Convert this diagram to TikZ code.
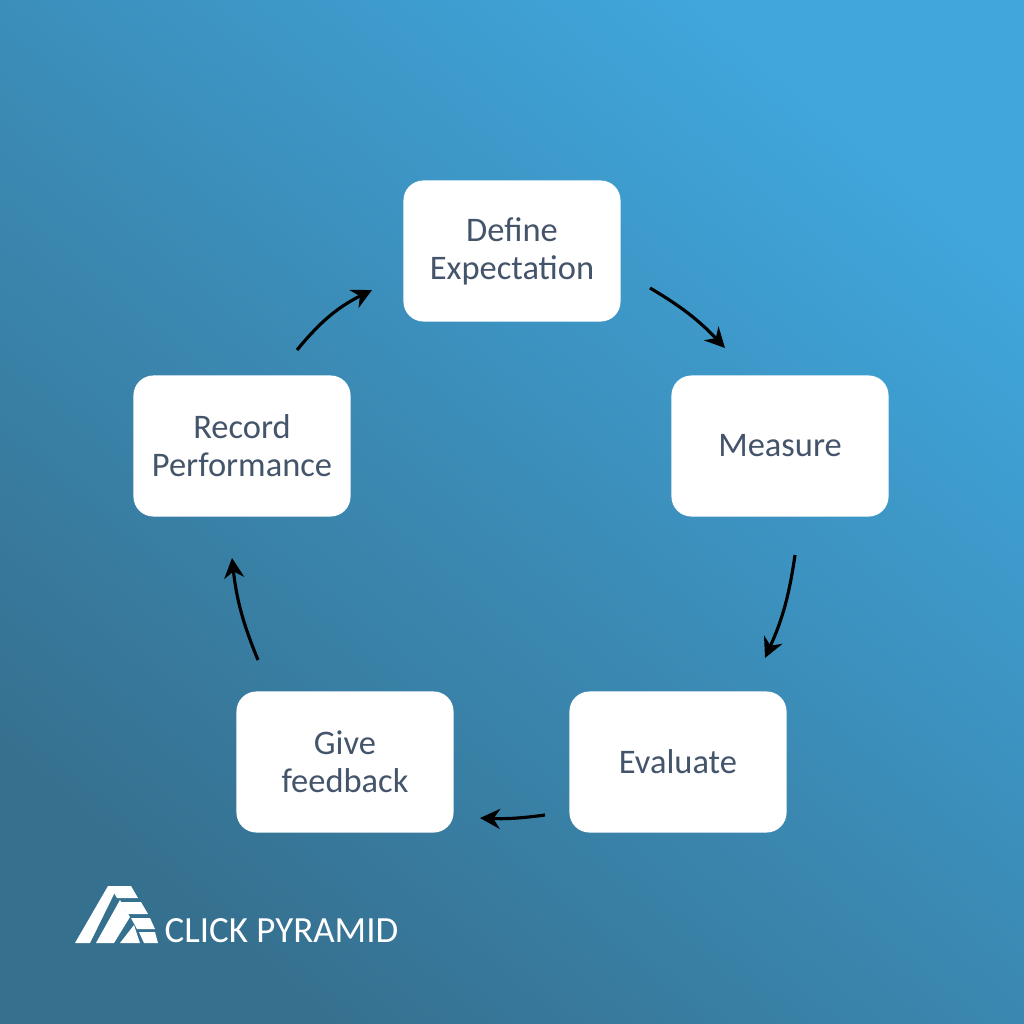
\documentclass[tikz,border=0pt]{standalone}
\usepackage{fontspec}
\setmainfont{Carlito}
\usetikzlibrary{arrows.meta}
\definecolor{bglight}{HTML}{40A6DC}
\definecolor{bgdark}{HTML}{36708F}
\definecolor{boxtext}{HTML}{44546A}
\tikzset{
  stage/.style={draw=none, fill=white, rounded corners=0.2cm, minimum width=2.17cm,
    minimum height=1.41cm, align=center, text=boxtext, font=\fontsize{9.8}{10.8}\selectfont},
  flow/.style={-{Stealth[length=0.2cm,width=0.2cm]}, line width=0.9pt, black},
}
\begin{document}
\begin{tikzpicture}[x=0.01cm, y=-0.01cm]
\useasboundingbox (0,0) rectangle (1024,1024);
\shade[top color=bglight, bottom color=bgdark, middle color=bglight!50!bgdark, shading angle=-40] (0,0) rectangle (1024,1024);

\node[stage] (define) at (512,251) {Define\\Expectation};
\node[stage] (measure) at (780,446) {Measure};
\node[stage] (evaluate) at (678,762) {Evaluate};
\node[stage] (feedback) at (345,762) {Give\\feedback};
\node[stage] (record) at (242,446) {Record\\Performance};

\coordinate (a1) at (297,350); \coordinate (a2) at (372,290);
\coordinate (b1) at (650,288); \coordinate (b2) at (725,348);
\coordinate (c1) at (795,555); \coordinate (c2) at (765,658);
\coordinate (d1) at (545,815); \coordinate (d2) at (480,818);
\coordinate (e1) at (258,660); \coordinate (e2) at (232,558);
\draw[flow] (a1) to[bend left=12] (a2);
\draw[flow] (b1) to[bend left=8] (b2);
\draw[flow] (c1) to[bend left=8] (c2);
\draw[flow] (d1) to[bend left=5] (d2);
\draw[flow] (e1) to[bend left=8] (e2);

% logo
\fill[white] (75,943) -- (108,886) -- (118,886) -- (90,943) -- cycle;
\fill[white] (96,943) -- (120,900) -- (130,917) -- (114,943) -- cycle;
\fill[white] (120,943) -- (134,925) -- (140,943) -- cycle;
\fill[white] (110,886) -- (131,886) -- (138,898) -- (117,898) -- cycle;
\fill[white] (121,902) -- (141,902) -- (148,914) -- (128,914) -- cycle;
\fill[white] (131,918) -- (150,918) -- (155,929) -- (137,929) -- cycle;
\fill[white] (139,932) -- (155,932) -- (158,943) -- (144,943) -- cycle;
\node[text=white, anchor=west, inner sep=0pt, font=\fontsize{10.5}{11}\selectfont] (brand) at (164,931) {CLICK PYRAMID};
\end{tikzpicture}
\end{document}
